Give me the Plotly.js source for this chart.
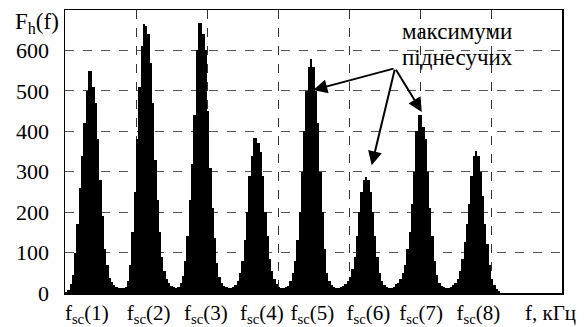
<!DOCTYPE html>
<html>
<head>
<meta charset="utf-8">
<script src="https://cdn.plot.ly/plotly-3.0.1.min.js"></script>
<style>html,body{margin:0;padding:0;background:#fff;}#chart{width:584px;height:327px;}</style>
</head>
<body>
<div id="chart"></div>
<script>
// Histogram counts F_h(f), one bin per bar, grouped by subcarrier lobe
const lobe1 = [3, 8, 22, 45, 100, 170, 260, 340, 420, 500, 549, 549, 510, 470, 380, 280, 190, 110, 70, 38, 26, 20, 16, 13];
const lobe2 = [12, 12, 14, 30, 70, 150, 250, 380, 510, 610, 665, 660, 640, 570, 470, 330, 230, 150, 90, 55, 35, 25, 18, 14];
const lobe3 = [13, 16, 25, 42, 80, 140, 230, 320, 440, 600, 668, 668, 640, 600, 450, 310, 210, 135, 75, 40, 25, 18, 14, 12];
const lobe4 = [12, 15, 20, 30, 50, 80, 130, 200, 290, 340, 384, 384, 370, 350, 290, 200, 140, 85, 55, 35, 22, 16, 13, 12];
const lobe5 = [14, 18, 30, 50, 80, 130, 200, 300, 400, 500, 560, 580, 560, 500, 420, 300, 200, 110, 50, 30, 20, 15, 12, 12];
const lobe6 = [14, 18, 22, 30, 40, 60, 90, 140, 200, 250, 280, 287, 280, 250, 200, 140, 90, 50, 30, 20, 15, 12, 12, 15];
const lobe7 = [22, 25, 35, 50, 70, 110, 150, 220, 300, 400, 441, 441, 410, 380, 300, 210, 140, 80, 45, 25, 18, 14, 12, 12];
const lobe8 = [14, 20, 25, 35, 55, 85, 125, 170, 220, 290, 340, 351, 340, 300, 240, 170, 120, 70, 35, 20, 10, 5];

const counts = [].concat(lobe1, lobe2, lobe3, lobe4, lobe5, lobe6, lobe7, lobe8);

// x-axis labels (subcarrier frequencies) and their bin positions
const xLabels = ['f<sub>sc</sub>(1)', 'f<sub>sc</sub>(2)', 'f<sub>sc</sub>(3)', 'f<sub>sc</sub>(4)',
                 'f<sub>sc</sub>(5)', 'f<sub>sc</sub>(6)', 'f<sub>sc</sub>(7)', 'f<sub>sc</sub>(8)', 'f, кГц'];
const xLabelBins = [9, 36, 61, 85.5, 107.5, 132, 155, 180, 211.5];
const yTicks = [0, 100, 200, 300, 400, 500, 600];

const font = '"Times New Roman", "Liberation Serif", "DejaVu Serif", serif';

const trace = {
  type: 'bar',
  y: counts,
  marker: {color: '#000', line: {width: 0}},
  hoverinfo: 'skip'
};

const arrowCommon = {
  xref: 'x', yref: 'y', axref: 'x', ayref: 'y',
  text: '', showarrow: true, arrowhead: 2, arrowsize: 1.4, arrowwidth: 2,
  arrowcolor: '#000', ax: 143.6, ay: 556
};

const layout = {
  width: 584, height: 327,
  margin: {l: 65, r: 22, t: 10, b: 34},
  paper_bgcolor: '#fff', plot_bgcolor: '#fff',
  bargap: 0,
  showlegend: false,
  font: {family: font, color: '#000'},
  xaxis: {
    range: [-0.5, 216.5],
    tickmode: 'array', tickvals: xLabelBins, ticktext: xLabels,
    ticks: '', showgrid: false, zeroline: false,
    tickfont: {family: font, size: 21, color: '#000'},
    ticklabelstandoff: 0,
    showline: true, mirror: true, linecolor: '#000', linewidth: 1.5,
    minor: {tick0: -0.5, dtick: 31, showgrid: true, griddash: 'dash', gridcolor: '#333', gridwidth: 1, ticks: ''}
  },
  yaxis: {
    range: [0, 700],
    tickmode: 'array', tickvals: yTicks,
    ticks: '', showgrid: true, griddash: 'dash', gridcolor: '#555', gridwidth: 1,
    zeroline: false,
    tickfont: {family: font, size: 22, color: '#000'},
    ticklabelstandoff: 10,
    showline: true, mirror: true, linecolor: '#000', linewidth: 1.5
  },
  annotations: [
    {xref: 'paper', yref: 'paper', x: -0.056, y: 0.955, xanchor: 'center', yanchor: 'middle',
     text: 'F<sub>h</sub>(f)', showarrow: false, font: {family: font, size: 23, color: '#000'}},
    {xref: 'paper', yref: 'paper', x: 0.789, y: 0.925, xanchor: 'center', yanchor: 'middle',
     text: 'максимуми', showarrow: false, font: {family: font, size: 23, color: '#000'}},
    {xref: 'paper', yref: 'paper', x: 0.789, y: 0.832, xanchor: 'center', yanchor: 'middle',
     text: 'піднесучих', showarrow: false, font: {family: font, size: 23, color: '#000'}},
    Object.assign({}, arrowCommon, {x: 107.9, y: 502}),
    Object.assign({}, arrowCommon, {x: 133.4, y: 316}),
    Object.assign({}, arrowCommon, {x: 155.3, y: 448})
  ]
};

Plotly.newPlot('chart', [trace], layout, {displayModeBar: false, staticPlot: true});
</script>
</body>
</html>
